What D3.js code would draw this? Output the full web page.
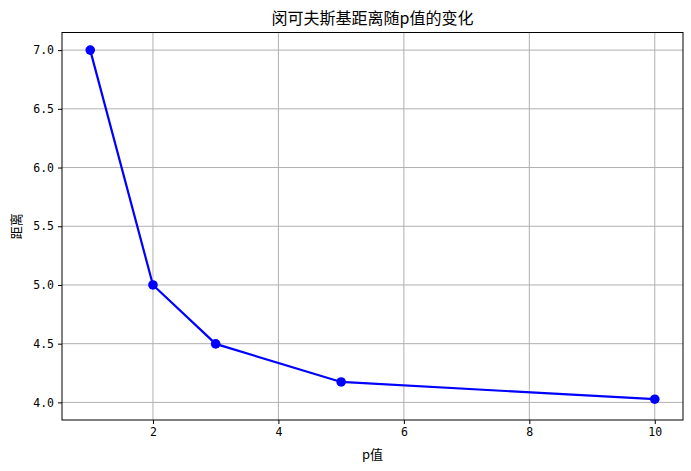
<!DOCTYPE html>
<html><head><meta charset="utf-8">
<script src="https://cdn.jsdelivr.net/npm/d3@7"></script>
<style>body{margin:0;background:#fff}</style>
</head><body>
<svg id="c" width="691" height="471"></svg>
<script>
const pValues = [1, 2, 3, 5, 10];
const distances = [7.0, 5.0, 4.498, 4.174, 4.027];
const xTicks = [2, 4, 6, 8, 10];
const yTicks = [4.0, 4.5, 5.0, 5.5, 6.0, 6.5, 7.0];
const title = "闵可夫斯基距离随p值的变化";
const xLabel = "p值";
const yLabel = "距离";

const svg = d3.select("#c");
const L = 62, R = 683, T = 32.5, B = 420;
const x = d3.scaleLinear().domain([0.55, 10.45]).range([L, R]);
const y = d3.scaleLinear().domain([3.85, 7.15]).range([B, T]);
const mono = "'DejaVu Sans Mono', monospace";
const cjk = "'Noto Sans CJK SC', sans-serif";

// grid
svg.append("g").selectAll("line").data(xTicks).join("line")
  .attr("x1", d => x(d)).attr("x2", d => x(d)).attr("y1", T).attr("y2", B)
  .attr("stroke", "#b0b0b0").attr("stroke-width", 1);
svg.append("g").selectAll("line").data(yTicks).join("line")
  .attr("x1", L).attr("x2", R).attr("y1", d => y(d)).attr("y2", d => y(d))
  .attr("stroke", "#b0b0b0").attr("stroke-width", 1);

// axes
const xa = svg.append("g").attr("transform", `translate(0,${B})`)
  .call(d3.axisBottom(x).tickValues(xTicks).tickFormat(d3.format("d")).tickSize(4).tickPadding(4));
const ya = svg.append("g").attr("transform", `translate(${L},0)`)
  .call(d3.axisLeft(y).tickValues(yTicks).tickFormat(d3.format(".1f")).tickSize(4).tickPadding(4));
[xa, ya].forEach(a => {
  a.select(".domain").remove();
  a.selectAll("text").attr("font-family", mono).attr("font-size", 11.5).attr("fill", "#000");
  a.selectAll("line").attr("stroke", "#000");
});

// frame
svg.append("rect").attr("x", L).attr("y", T).attr("width", R - L).attr("height", B - T)
  .attr("fill", "none").attr("stroke", "#000").attr("stroke-width", 1);

// line
const pts = pValues.map((p, i) => [p, distances[i]]);
svg.append("path").datum(pts)
  .attr("d", d3.line().x(d => x(d[0])).y(d => y(d[1])))
  .attr("fill", "none").attr("stroke", "#0000ff").attr("stroke-width", 2.2);
svg.append("g").selectAll("circle").data(pts).join("circle")
  .attr("cx", d => x(d[0])).attr("cy", d => y(d[1])).attr("r", 4.8).attr("fill", "#0000ff");

// labels
svg.append("text").attr("x", (L + R) / 2).attr("y", 24).attr("text-anchor", "middle")
  .attr("font-family", cjk).attr("font-size", 16).text(title);
svg.append("text").attr("x", (L + R) / 2).attr("y", 459).attr("text-anchor", "middle")
  .attr("font-family", cjk).attr("font-size", 13).text(xLabel);
svg.append("text").attr("transform", `translate(21,${(T + B) / 2}) rotate(-90)`).attr("text-anchor", "middle")
  .attr("font-family", cjk).attr("font-size", 13).text(yLabel);
</script>
</body></html>
